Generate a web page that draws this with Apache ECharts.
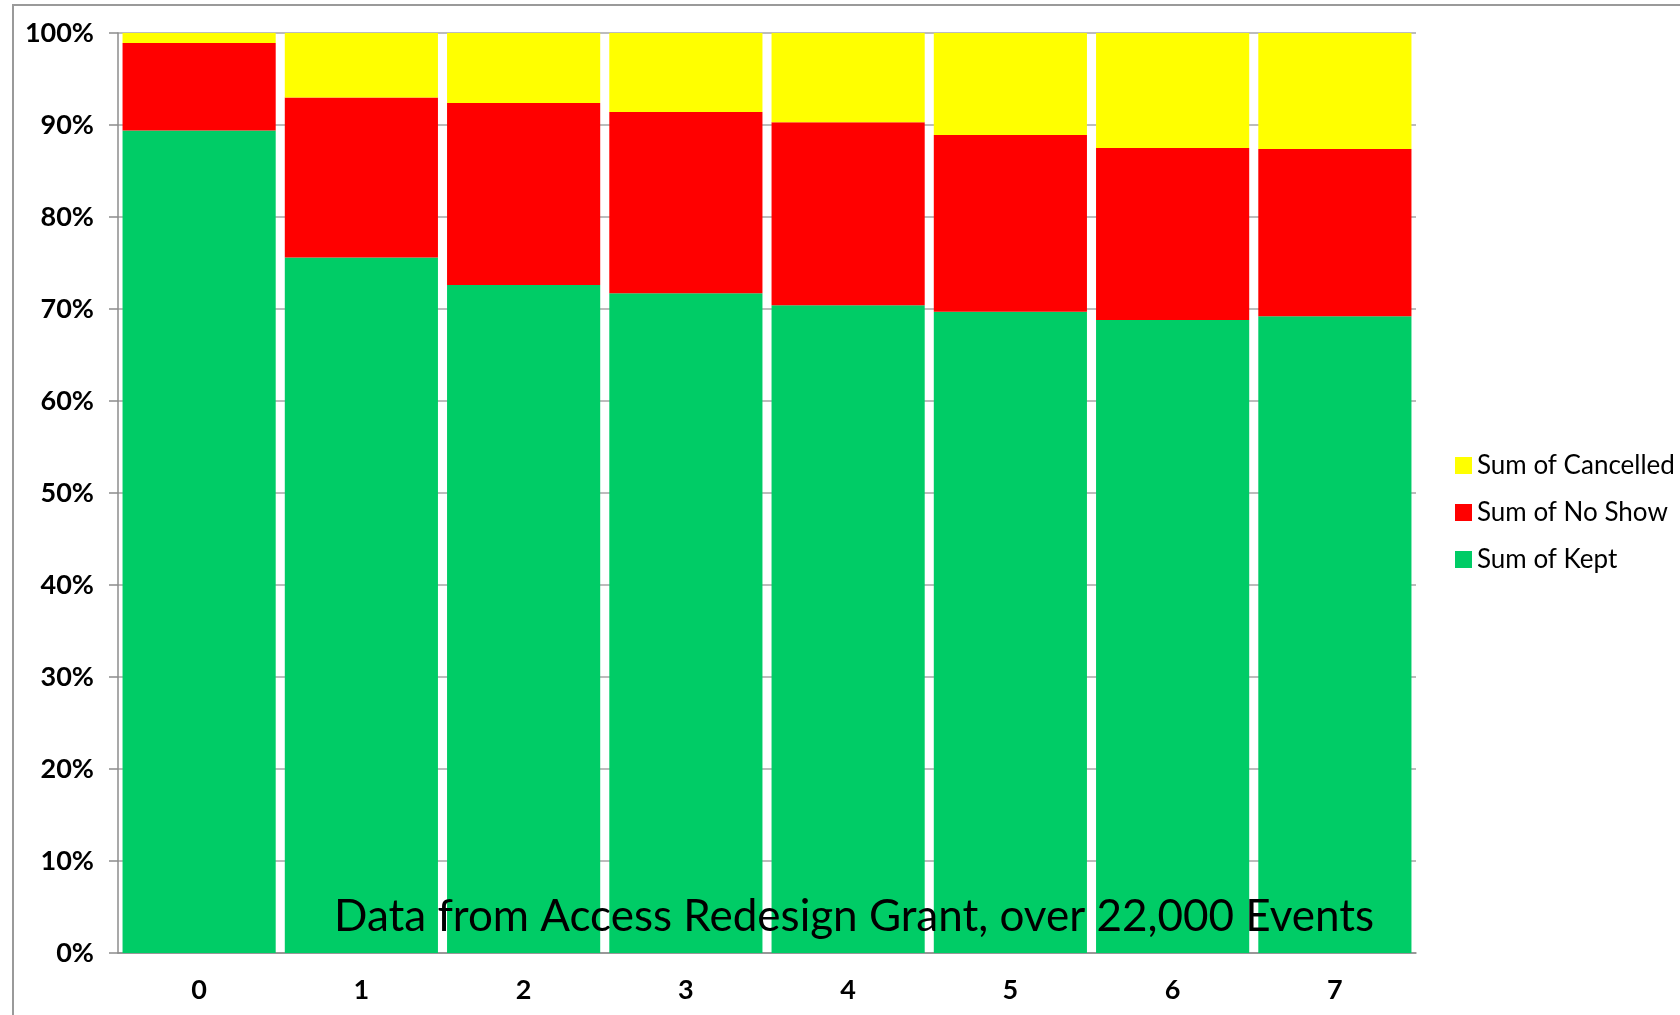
<!DOCTYPE html>
<html>
<head>
<meta charset="utf-8">
<script src="https://cdn.jsdelivr.net/npm/echarts@6/dist/echarts.min.js"></script>
<style>
  html, body { margin: 0; padding: 0; background: #fff; }
  #chart { width: 1680px; height: 1015px; }
</style>
</head>
<body>
<div id="chart"></div>
<script>
// Appointment outcomes as share of all events, per category 0..7
const categories = ['0', '1', '2', '3', '4', '5', '6', '7'];
const kept      = [89.4, 75.6, 72.6, 71.7, 70.4, 69.7, 68.8, 69.2];
const noShow    = [9.5, 17.4, 19.8, 19.7, 19.9, 19.2, 18.7, 18.2];
const cancelled = [1.1, 7.0, 7.6, 8.6, 9.7, 11.1, 12.5, 12.6];
const yTicks = [0, 10, 20, 30, 40, 50, 60, 70, 80, 90, 100];

const FONT = 'Lato, "Open Sans", sans-serif';
const axisGray = '#8c8c8c';

const chart = echarts.init(document.getElementById('chart'));
chart.setOption({
  animation: false,
  backgroundColor: '#ffffff',
  graphic: [
    {
      type: 'rect',
      shape: { x: 13, y: 5, width: 1720, height: 1100 },
      style: { fill: 'none', stroke: '#9a9a9a', lineWidth: 2 },
      z: 0
    }
  ],
  title: {
    text: 'Data from Access Redesign Grant, over 22,000 Events',
    left: 334,
    top: 895,
    padding: 0,
    textStyle: { fontFamily: FONT, fontWeight: 'normal', fontSize: 44, color: '#000' },
    z: 10
  },
  legend: {
    orient: 'vertical',
    left: 1455,
    top: 452,
    padding: 0,
    itemWidth: 17,
    itemHeight: 17,
    itemGap: 20,
    icon: 'rect',
    textStyle: { fontFamily: FONT, fontSize: 26, color: '#000', lineHeight: 27 },
    data: ['Sum of Cancelled', 'Sum of No Show', 'Sum of Kept']
  },
  grid: { left: 118, right: 264, top: 33, bottom: 62 },
  xAxis: {
    type: 'category',
    data: categories,
    axisLine: { lineStyle: { color: axisGray, width: 1.5 } },
    axisTick: { length: 9, lineStyle: { color: axisGray, width: 1.5 } },
    axisLabel: { margin: 24, fontFamily: FONT, fontSize: 27, fontWeight: 'bold', color: '#000' }
  },
  yAxis: {
    type: 'value',
    min: 0,
    max: 100,
    interval: 10,
    axisLine: { show: true, lineStyle: { color: axisGray, width: 1.5 } },
    axisTick: { show: true, length: 9, lineStyle: { color: axisGray, width: 1.5 } },
    splitLine: { show: true, lineStyle: { color: '#a6a6a6', width: 1.5 } },
    axisLabel: {
      margin: 24,
      fontFamily: FONT, fontSize: 27, fontWeight: 'bold', color: '#000',
      formatter: v => (yTicks.includes(v) ? v + '%' : '')
    }
  },
  series: [
    { name: 'Sum of Kept', type: 'bar', stack: 'all', data: kept, barCategoryGap: '5.6%', itemStyle: { color: '#00CC66' } },
    { name: 'Sum of No Show', type: 'bar', stack: 'all', data: noShow, itemStyle: { color: '#FF0000' } },
    { name: 'Sum of Cancelled', type: 'bar', stack: 'all', data: cancelled, itemStyle: { color: '#FFFF00' } }
  ]
});
</script>
</body>
</html>
